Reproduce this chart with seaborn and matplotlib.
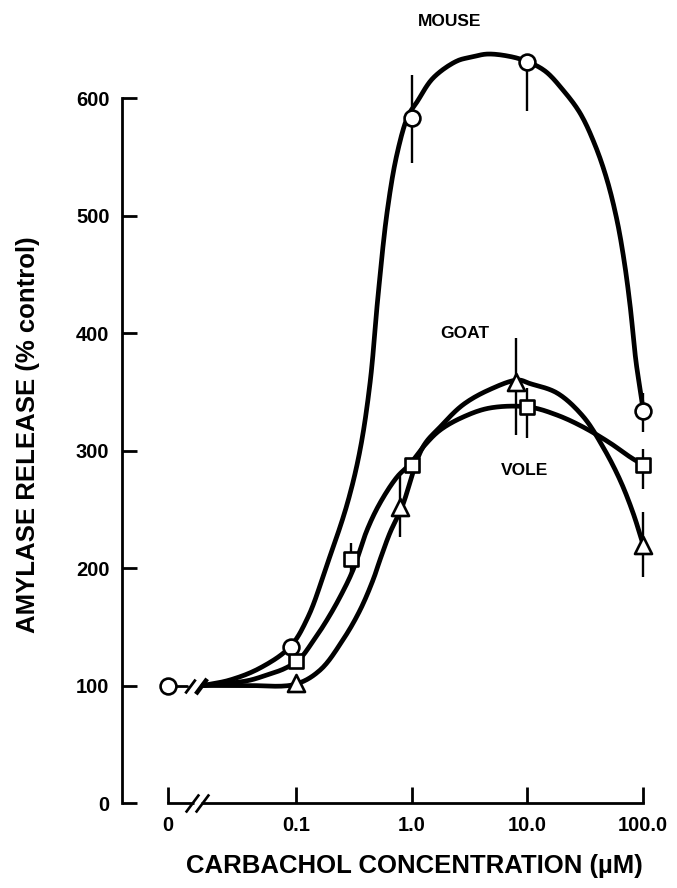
import numpy as np
import pandas as pd
import matplotlib
matplotlib.use("Agg")
import matplotlib.pyplot as plt
from matplotlib.path import Path
from matplotlib.ticker import NullLocator, FixedLocator, FixedFormatter
import seaborn as sns

# ---------------- data ----------------
zero_pos = 0.0078          # where the "0" concentration is placed on the log axis
control_value = 100

mouse_x = [0.09, 1.0, 10.0, 100.0]
mouse_y = [133, 583, 631, 334]
mouse_err_lo = [0, 38, 42, 18]
mouse_err_hi = [0, 37, 0, 15]

goat_x = [0.1, 0.8, 8.0, 100.0]
goat_y = [102, 252, 358, 220]
goat_err_lo = [0, 26, 45, 28]
goat_err_hi = [0, 26, 38, 28]

vole_x = [0.1, 0.3, 1.0, 10.0, 100.0]
vole_y = [121, 208, 288, 337, 288]
vole_err_lo = [0, 13, 0, 26, 21]
vole_err_hi = [0, 13, 0, 16, 13]

# hand-drawn fitted curves
mouse_curve_x = [0.0157, 0.0269, 0.0489, 0.0887, 0.127, 0.185, 0.276, 0.357,
                 0.437, 0.512, 0.613, 0.746, 0.929, 1.11, 1.53, 2.46, 3.32, 4.48,
                 6.79, 9.7, 14.2, 20.3, 28.5, 38.4, 48.8, 59.4, 68.4, 77.1, 86.9,
                 95.9, 100]
mouse_curve_y = [100, 104.7, 114.9, 132.8, 158.3, 202.6, 254.0, 300.0,
                 358.0, 432.0, 503.0, 552.3, 584.7, 596.6, 617.0, 631.5, 634.9, 637.4,
                 635.7, 631.5, 623.0, 606.8, 587.2, 560.0, 530.2, 496.2, 462.1, 423.8,
                 375.3, 347.2, 334]

goat_curve_x = [0.0157, 0.0377, 0.098, 0.161, 0.255, 0.357, 0.464, 0.532, 0.649, 0.824,
                1.25, 1.76, 2.78, 4.75, 8.3, 10.5, 18.0, 30.3, 45.0, 63.1, 81.8, 100]
goat_curve_y = [100, 100, 101, 113, 139, 164, 190, 207, 230, 252,
                303, 320, 339, 352, 360, 357, 349, 329, 303, 275, 247, 220]

vole_curve_x = [0.0157, 0.0377, 0.0561, 0.080, 0.106, 0.140, 0.185, 0.240, 0.311, 0.411,
                0.532, 0.746, 0.966, 1.30, 1.76, 2.78, 4.75, 10.3, 18.0, 30.3, 51.8,
                77.1, 100]
vole_curve_y = [100, 104.0, 109.0, 114.5, 122.0, 137.5, 155.7, 175.3, 198.3, 232.3,
                255.3, 277.4, 288.5, 304.7, 317.4, 328.5, 336.2, 337.0, 330.2, 320.0,
                306.4, 294.5, 287.7]

x_tick_values = [zero_pos, 0.1, 1.0, 10.0, 100.0]
x_tick_labels = ["0", "0.1", "1.0", "10.0", "100.0"]
y_tick_values = [0, 100, 200, 300, 400, 500, 600]


def smooth_line(xs, ys, n=16):
    """Centripetal Catmull-Rom rendering of a traced hand-drawn line (log-x space)."""
    P = np.column_stack([np.log10(xs) * 115.7, np.asarray(ys, float) * 1.175])
    ext = np.vstack([2 * P[0] - P[1], P, 2 * P[-1] - P[-2]])
    out = []
    for i in range(len(P) - 1):
        p0, p1, p2, p3 = ext[i:i + 4]
        t0 = 0.0
        t1 = t0 + np.linalg.norm(p1 - p0) ** 0.5
        t2 = t1 + np.linalg.norm(p2 - p1) ** 0.5
        t3 = t2 + np.linalg.norm(p3 - p2) ** 0.5
        t = np.linspace(t1, t2, n, endpoint=False)[:, None]
        A1 = (t1 - t) / (t1 - t0) * p0 + (t - t0) / (t1 - t0) * p1
        A2 = (t2 - t) / (t2 - t1) * p1 + (t - t1) / (t2 - t1) * p2
        A3 = (t3 - t) / (t3 - t2) * p2 + (t - t2) / (t3 - t2) * p3
        B1 = (t2 - t) / (t2 - t0) * A1 + (t - t0) / (t2 - t0) * A2
        B2 = (t3 - t) / (t3 - t1) * A2 + (t - t1) / (t3 - t1) * A3
        out.append((t2 - t) / (t2 - t1) * B1 + (t - t1) / (t2 - t1) * B2)
    out.append(P[-1:])
    Q = np.vstack(out)
    return 10 ** (Q[:, 0] / 115.7), Q[:, 1] / 1.175


# ---------------- style ----------------
sns.set_style("ticks")
plt.rcParams["font.family"] = ["Liberation Sans", "DejaVu Sans"]
plt.rcParams["font.weight"] = "bold"
for key in ["text.color", "axes.labelcolor", "xtick.color", "ytick.color", "axes.edgecolor"]:
    plt.rcParams[key] = "black"

fig = plt.figure(figsize=(6.77, 8.88), dpi=100)
ax = fig.add_axes([122 / 677, 85 / 888, 538 / 677, 783 / 888])
ax.set_xscale("log")
ax.set_xlim(0.003133, 139.97)
ax.set_ylim(0, 666.4)

# curves
for cx, cy in [(mouse_curve_x, mouse_curve_y), (goat_curve_x, goat_curve_y),
               (vole_curve_x, vole_curve_y)]:
    sx, sy = smooth_line(cx, cy)
    sns.lineplot(x=sx, y=sy, sort=False, estimator=None, color="black", lw=3.4,
                 ax=ax, zorder=2)

# zero-concentration point with its short connecting line
ax.plot([zero_pos, 0.0114], [control_value, control_value], color="black", lw=2.0, zorder=2)

# error bars
for xs, ys, lo, hi in [(mouse_x, mouse_y, mouse_err_lo, mouse_err_hi),
                       (goat_x, goat_y, goat_err_lo, goat_err_hi),
                       (vole_x, vole_y, vole_err_lo, vole_err_hi)]:
    ax.errorbar(xs, ys, yerr=[lo, hi], fmt="none", ecolor="black", elinewidth=1.7,
                capsize=0, zorder=3)

# markers
sns.scatterplot(x=mouse_x + [zero_pos], y=mouse_y + [control_value], marker="o", s=130,
                facecolor="white", edgecolor="black", linewidth=1.9, ax=ax, zorder=5)
sns.scatterplot(x=goat_x, y=goat_y, marker="^", s=150, facecolor="white",
                edgecolor="black", linewidth=1.9, ax=ax, zorder=5)
sns.scatterplot(x=vole_x, y=vole_y, marker="s", s=105, facecolor="white",
                edgecolor="black", linewidth=1.9, ax=ax, zorder=5)

# break marks on the data line
slash = Path([(-0.37, -0.5), (0.37, 0.5)], [Path.MOVETO, Path.LINETO])
ax.plot([0.0121], [control_value], ls="none", marker=slash, ms=10, mew=2.0,
        color="black", zorder=4)
ax.plot([0.0152], [control_value], ls="none", marker=slash, ms=11, mew=3.2,
        color="black", zorder=4)

# axes styling
for s in ["top", "right"]:
    ax.spines[s].set_visible(False)
ax.spines["left"].set_linewidth(2.0)
ax.spines["bottom"].set_linewidth(2.0)
ax.spines["left"].set_bounds(0, 600)
ax.spines["bottom"].set_bounds(zero_pos, 100)

# break in the x axis
ax.plot([0.01313, 0.01511], [0, 0], color="white", lw=5, solid_capstyle="butt",
        clip_on=False, zorder=6)
ax.plot([0.01262, 0.01540], [0, 0], ls="none", marker=slash, ms=13, mew=1.9,
        color="black", clip_on=False, zorder=7)

ax.xaxis.set_major_locator(FixedLocator(x_tick_values))
ax.xaxis.set_major_formatter(FixedFormatter(x_tick_labels))
ax.xaxis.set_minor_locator(NullLocator())
ax.set_yticks(y_tick_values)
ax.tick_params(axis="x", direction="in", length=11.5, width=2.0, pad=9,
               labelsize=14.5)
ax.tick_params(axis="y", direction="in", length=11, width=2.0, pad=9,
               labelsize=14.5)
for lab in ax.get_xticklabels() + ax.get_yticklabels():
    lab.set_fontweight("bold")
ax.set_xlabel("")
ax.set_ylabel("")

# annotations
ax.text(2.14, 664.7, "MOUSE", ha="center", va="center", fontsize=12.5, fontweight="bold")
ax.text(2.89, 400, "GOAT", ha="center", va="center", fontsize=12.5, fontweight="bold")
ax.text(9.5, 283.4, "VOLE", ha="center", va="center", fontsize=12.5, fontweight="bold")

fig.text(414 / 677, 1 - 866 / 888, "CARBACHOL CONCENTRATION (\u00b5M)", ha="center",
         va="center", fontsize=18.5, fontweight="bold")
fig.text(28 / 677, 1 - 435 / 888, "AMYLASE RELEASE (% control)", rotation=90,
         ha="center", va="center", fontsize=18.5, fontweight="bold")

fig.savefig("out.png", dpi=100)
